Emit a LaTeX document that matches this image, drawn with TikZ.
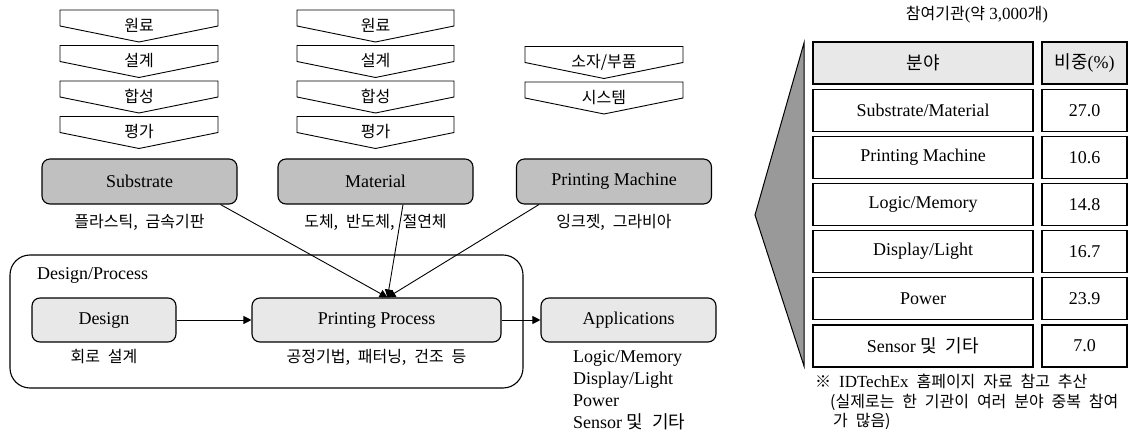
\documentclass[tikz,border=0pt]{standalone}
\usepackage{fontspec}
\setmainfont{Liberation Serif}
\newfontfamily\kr[WordSpace=2.2]{Noto Sans CJK KR}
\usetikzlibrary{arrows.meta}

\definecolor{boxgray}{RGB}{192,192,192}
\definecolor{palegray}{RGB}{232,232,232}
\definecolor{wedgegray}{RGB}{153,153,153}

\begin{document}
\begin{tikzpicture}[x=1pt,y=-1pt,
  chev/.style={draw=black, line width=0.9pt, line join=miter},
  chevtxt/.style={inner sep=0pt, font=\kr\fontsize{16}{19}\selectfont},
  note/.style={inner sep=0pt, font=\kr\fontsize{16}{19}\selectfont},
  srcbox/.style={draw=black, line width=1.1pt, rounded corners=8pt, fill=boxgray,
    minimum width=195pt, minimum height=45pt, inner sep=0pt, font=\fontsize{18}{22}\selectfont},
  procbox/.style={draw=black, line width=1.1pt, rounded corners=8pt, fill=palegray,
    minimum height=44pt, inner sep=0pt, font=\fontsize{18}{22}\selectfont},
  cell/.style={draw=black, line width=1.1pt, minimum height=42pt, inner sep=0pt,
    font=\fontsize{18}{22}\selectfont},
  arr/.style={draw=black, line width=0.9pt, -{Triangle[length=8pt, width=8pt]}},
  plain/.style={inner sep=0pt, font=\fontsize{18}{22}\selectfont}]
\useasboundingbox (0,0) rectangle (1133,435);

% step chevrons above Substrate and Material
\foreach \t [count=\i] in {원료,설계,합성,평가} {
  \draw[chev] (60,{10+35.5*(\i-1)}) -- ++(158,0) -- ++(0,16) -- ++(-79,16) -- ++(-79,-16) -- cycle;
  \node[chevtxt] (subst\i) at (139,{25.5+35.5*(\i-1)}) {\t};
  \draw[chev] (297,{10+35.5*(\i-1)}) -- ++(157,0) -- ++(0,16) -- ++(-78.5,16) -- ++(-78.5,-16) -- cycle;
  \node[chevtxt] (matst\i) at (375.5,{25.5+35.5*(\i-1)}) {\t};
}
% chevrons above Printing Machine
\foreach \t [count=\i] in {소자/부품,시스템} {
  \draw[chev] (525,{46.5+35.5*(\i-1)}) -- ++(158,0) -- ++(0,16) -- ++(-79,16) -- ++(-79,-16) -- cycle;
  \node[chevtxt] (pmst\i) at (604,{62+35.5*(\i-1)}) {\t};
}

% input boxes
\node[srcbox] (sub) at (139.5,181.5) {Substrate};
\node[srcbox] (mat) at (375.5,181.5) {Material};
\node[srcbox] (pm) at (614,181.5) {Printing Machine};
\node[note] (subnote) at (139.5,222) {플라스틱, 금속기판};
\node[note] (matnote) at (375.5,222) {도체, 반도체, 절연체};
\node[note] (pmnote) at (614,222) {잉크젯, 그라비아};

% design/process group
\draw[line width=1.1pt, rounded corners=20pt] (10,255) rectangle (523,388);
\node[plain, anchor=west] (grplab) at (37,275) {Design/Process};
\node[procbox, minimum width=144pt] (des) at (104,320) {Design};
\node[procbox, minimum width=249pt] (pp) at (376.5,320) {Printing Process};
\node[procbox, minimum width=175pt] (app) at (628.5,320) {Applications};
\node[note] (desnote) at (104,357) {회로 설계};
\node[note] (ppnote) at (376.5,357) {공정기법, 패터닝, 건조 등};
\foreach \t [count=\i] in {Logic/Memory,Display/Light,Power,{Sensor {\kr 및 기타}}}
  \node[plain, anchor=base west] (applist\i) at (573,{363+21.7*(\i-1)}) {\t};

\draw[arr] (des) -- (pp);
\draw[arr] (pp) -- (app);
\coordinate (hit) at ([xshift=11pt]pp.north);
\draw[arr] ([xshift=-17pt]sub.south east) -- (hit);
\draw[arr] ([xshift=27.5pt]mat.south) -- (hit);
\draw[arr] ([xshift=23pt]pm.south west) -- (hit);

% participants table
\filldraw[fill=wedgegray, draw=black, line width=1pt] (804,43) -- (755,215) -- (804,366) -- cycle;
\node[plain] (ttl) at (977,15) {\fontsize{17}{19}\selectfont{\kr\fontsize{16}{19}\selectfont 참여기관}({\kr\fontsize{16}{19}\selectfont 약} 3,000{\kr\fontsize{16}{19}\selectfont 개})};
\node[cell, fill=palegray, minimum width=220pt] (hfield) at (923,63) {{\kr 분야}};
\node[cell, fill=palegray, minimum width=85pt] (hshare) at (1084.5,63) {{\kr 비중}(\%)};
\foreach \f/\v [count=\i] in {{Substrate/Material}/27.0,Printing Machine/10.6,{Logic/Memory}/14.8,{Display/Light}/16.7,Power/23.9,Sensor {\kr 및 기타}/7.0} {
  \node[cell, minimum width=220pt] (field\i) at (923,{63+47.17*\i}) {\f};
  \node[cell, minimum width=85pt] (share\i) at (1084.5,{63+47.17*\i}) {\v};
}
\node[note, anchor=base west] (fn1) at (815,388) {※ {\rmfamily\fontsize{17}{19}\selectfont IDTechEx} 홈페이지 자료 참고 추산};
\node[note, anchor=base west] (fn2) at (830,408) {(실제로는 한 기관이 여러 분야 중복 참여};
\node[note, anchor=base west] (fn3) at (833,427) {가 많음)};
\end{tikzpicture}
\end{document}
